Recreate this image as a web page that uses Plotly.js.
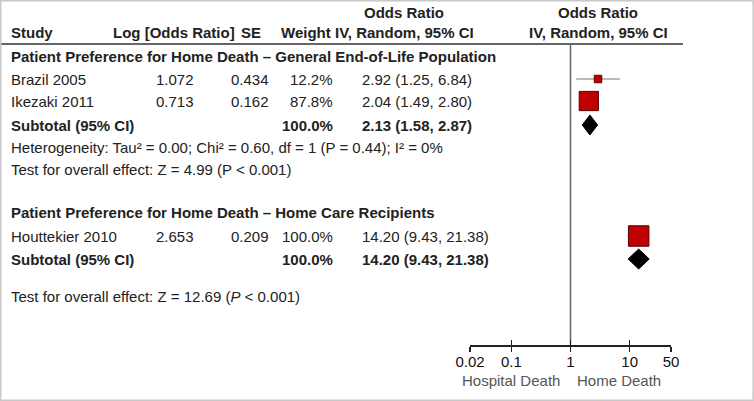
<!DOCTYPE html>
<html><head><meta charset="utf-8">
<script src="https://cdn.plot.ly/plotly-3.0.1.min.js"></script>
<style>html,body{margin:0;padding:0;background:#fff}</style>
</head><body><div id="chart" style="width:754px;height:401px"></div>
<script>
// ---- data ----
const studies = ["Brazil 2005", "Ikezaki 2011", "Houttekier 2010"];
const logOR = ["1.072", "0.713", "2.653"];
const seVals = ["0.434", "0.162", "0.209"];
const weights = [12.2, 87.8, 100.0];
const oddsRatio = [2.92, 2.04, 14.20];
const ciLow = [1.25, 1.49, 9.43];
const ciHigh = [6.84, 2.80, 21.38];
const groupNames = ["Patient Preference for Home Death – General End-of-Life Population",
                    "Patient Preference for Home Death – Home Care Recipients"];
const subtotalWeight = [100.0, 100.0];
const subtotalOR = [2.13, 14.20];
const subtotalLow = [1.58, 9.43];
const subtotalHigh = [2.87, 21.38];
const heterogeneity = ["Heterogeneity: Tau² = 0.00; Chi² = 0.60, df = 1 (P = 0.44); I² = 0%", null];
const overallTests = ["Test for overall effect: Z = 4.99 (P &lt; 0.001)",
                      "Test for overall effect: Z = 12.69 (<i>P</i> &lt; 0.001)"];
const tickVals = [0.02, 0.1, 1, 10, 50];
const tickText = ["0.02", "0.1", "1", "10", "50"];
const favourLabels = ["Hospital Death", "Home Death"];

// ---- layout (row positions in pixels from top) ----
const W = 754, H = 401;
const rowHead1 = 12, rowHead2 = 32;
const groupRows = [56, 212];
const studyRows = [79, 101, 236];
const subtotalRows = [125, 259];
const hetRows = [147, null];
const testRows = [169, 296];
const axisY = 345;
const FONT = "Liberation Sans, Arial, sans-serif";
const TXT = "#222";
const FS = 15;

const fmt2 = v => v.toFixed(2);
const ciText = (o, l, h) => `${fmt2(o)} (${fmt2(l)}, ${fmt2(h)})`;

const ann = [];
function txt(text, xpx, y, anchor, bold, extra) {
  ann.push(Object.assign({
    text: bold ? `<b>${text}</b>` : text,
    x: xpx / W, xref: "paper", y: y, yref: "y",
    xanchor: anchor, yanchor: "middle", showarrow: false,
    font: {family: FONT, size: FS, color: TXT}
  }, extra || {}));
}
// headers
txt("Odds Ratio", 404, rowHead1, "center", true);
txt("Odds Ratio", 598, rowHead1, "center", true);
txt("Study", 9, rowHead2, "left", true);
txt("Log [Odds Ratio]", 174, rowHead2, "center", true);
txt("SE", 251, rowHead2, "center", true);
txt("Weight", 306, rowHead2, "center", true);
txt("IV, Random, 95% CI", 404, rowHead2, "center", true);
txt("IV, Random, 95% CI", 598, rowHead2, "center", true);

const groupStudies = [[0, 1], [2]];
groupNames.forEach((g, gi) => {
  txt(g, 9, groupRows[gi], "left", true);
  groupStudies[gi].forEach(i => {
    const y = studyRows[i];
    txt(studies[i], 9, y, "left", false);
    txt(logOR[i], 175, y, "center", false);
    txt(seVals[i], 250, y, "center", false);
    txt(weights[i].toFixed(1) + "%", 335, y, "right", false);
    txt(ciText(oddsRatio[i], ciLow[i], ciHigh[i]), 360, y, "left", false);
  });
  txt("Subtotal (95% CI)", 9, subtotalRows[gi], "left", true);
  txt(subtotalWeight[gi].toFixed(1) + "%", 335, subtotalRows[gi], "right", true);
  txt(ciText(subtotalOR[gi], subtotalLow[gi], subtotalHigh[gi]), 360, subtotalRows[gi], "left", true);
  if (heterogeneity[gi]) txt(heterogeneity[gi], 9, hetRows[gi], "left", false);
  txt(overallTests[gi], 9, testRows[gi], "left", false);
});
// favour labels
ann.push({text: favourLabels[0], x: 562 / W, xref: "paper", y: 1 - 380 / H, yref: "paper",
  xanchor: "right", yanchor: "middle", showarrow: false, font: {family: FONT, size: FS, color: "#555"}});
ann.push({text: favourLabels[1], x: 575 / W, xref: "paper", y: 1 - 380 / H, yref: "paper",
  xanchor: "left", yanchor: "middle", showarrow: false, font: {family: FONT, size: FS, color: "#555"}});

// ---- traces ----
const traces = [];
// reference line at OR = 1
traces.push({x: [1, 1], y: [45, axisY], mode: "lines", line: {color: "#666", width: 1.5},
  hoverinfo: "skip", showlegend: false});
// study squares with CI
traces.push({
  x: oddsRatio, y: studyRows, mode: "markers", type: "scatter", showlegend: false,
  marker: {symbol: "square", color: "#c00000", opacity: 1,
           size: weights.map(w => 20 * Math.sqrt(w / 100) + 0.5),
           line: {color: "#5a0000", width: 1}},
  error_x: {type: "data", symmetric: false,
            array: ciHigh.map((h, i) => h - oddsRatio[i]),
            arrayminus: ciLow.map((l, i) => oddsRatio[i] - l),
            color: "#777", thickness: 1.2, width: 0}
});
// subtotal diamonds
subtotalOR.forEach((o, i) => {
  const yc = subtotalRows[i], h = 10;
  traces.push({x: [subtotalLow[i], o, subtotalHigh[i], o, subtotalLow[i]],
    y: [yc, yc - h, yc, yc + h, yc], mode: "lines", fill: "toself",
    fillcolor: "#000", line: {color: "#000", width: 1}, showlegend: false, hoverinfo: "skip"});
});
// dummy for second axis
traces.push({x: [1], y: [axisY], xaxis: "x2", mode: "markers", marker: {opacity: 0}, showlegend: false, hoverinfo: "skip"});

const xr = [Math.log10(0.02), Math.log10(50)];
const xdom = [470 / W, 671 / W];
const layout = {
  width: W, height: H, margin: {l: 0, r: 0, t: 0, b: 0},
  paper_bgcolor: "#fff", plot_bgcolor: "rgba(0,0,0,0)", showlegend: false,
  font: {family: FONT, color: TXT},
  xaxis: {type: "log", range: xr, domain: xdom, anchor: "y", showgrid: false, zeroline: false,
    showline: true, linecolor: "#222", linewidth: 1.5, ticks: "outside", ticklen: 5,
    tickwidth: 1.5, tickcolor: "#222", tickmode: "array", tickvals: tickVals, ticktext: tickText,
    ticklabelstandoff: -3,
    tickfont: {family: FONT, size: FS, color: "#111"}, fixedrange: true},
  xaxis2: {type: "log", range: xr, domain: xdom, anchor: "y", overlaying: "x", showgrid: false,
    zeroline: false, showline: false, ticks: "inside", ticklen: 5, tickwidth: 1.5, tickcolor: "#222",
    tickmode: "array", tickvals: tickVals, showticklabels: false, fixedrange: true},
  yaxis: {range: [axisY, 0], domain: [1 - axisY / H, 1], visible: false, fixedrange: true},
  annotations: ann,
  shapes: [
    {type: "line", xref: "paper", yref: "y", x0: 0, x1: 683 / W, y0: 44, y1: 44,
     line: {color: "#333", width: 1.5}},
    {type: "rect", xref: "paper", yref: "paper", x0: 0.8 / W, x1: 1 - 0.8 / W, y0: 0.8 / H, y1: 1 - 0.8 / H,
     line: {color: "#c8c8c8", width: 1.5}}
  ]
};
Plotly.newPlot("chart", traces, layout, {displayModeBar: false, staticPlot: true});
</script>
</body></html>
